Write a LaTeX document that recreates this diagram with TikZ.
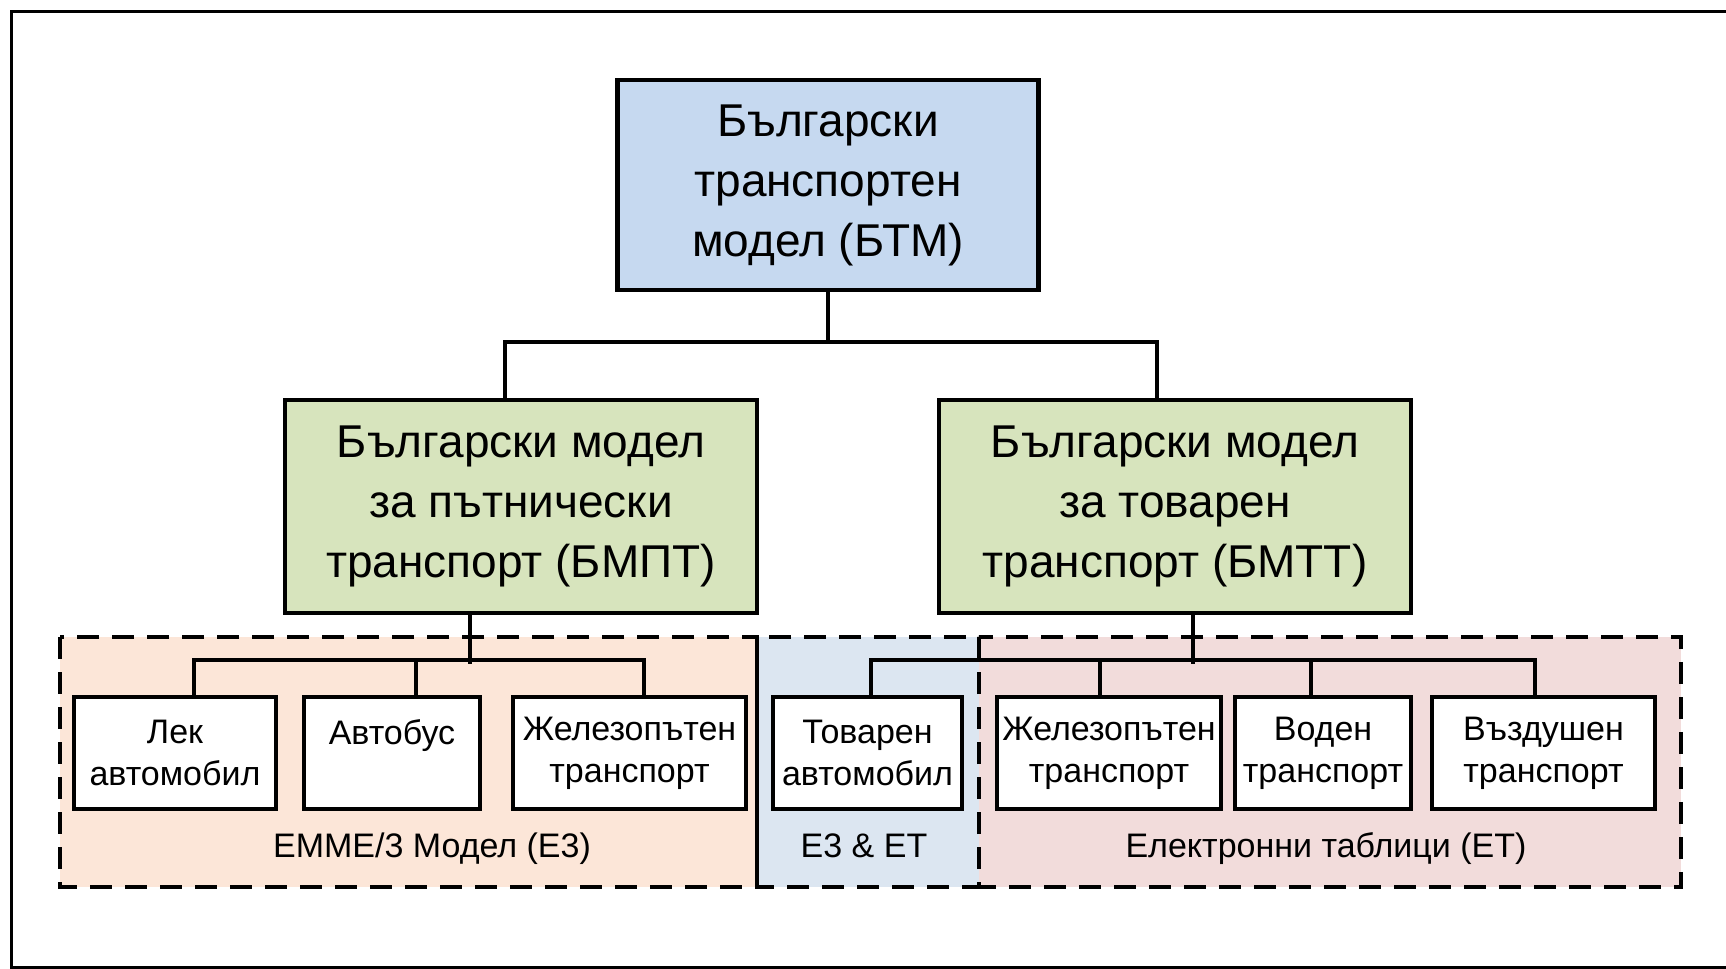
\documentclass[tikz,border=0pt]{standalone}
\usepackage{fontspec}
\setmainfont{Liberation Sans}
\definecolor{topfill}{HTML}{C6D9F0}
\definecolor{greenfill}{HTML}{D7E4BD}
\definecolor{orangefill}{HTML}{FCE6D8}
\definecolor{bluefill}{HTML}{DCE6F1}
\definecolor{pinkfill}{HTML}{F2DCDB}
\tikzset{
  bigbox/.style={draw=black, line width=2.1pt, align=center, inner sep=0pt,
    font=\fontsize{23}{30}\selectfont},
  smallbox/.style={draw=black, line width=2.25pt, fill=white, align=center, inner sep=0pt,
    minimum height=56pt, font=\fontsize{17}{21}\selectfont},
  conn/.style={draw=black, line width=2pt},
  dashbox/.style={draw=black, line width=2pt, dash pattern=on 11pt off 6.5pt},
  grouplabel/.style={inner sep=0pt, font=\fontsize{17}{21}\selectfont}
}
\begin{document}
\begin{tikzpicture}[x=0.5pt,y=-0.5pt]
\useasboundingbox (0,0) rectangle (1726,969);
% outer frame
\draw[line width=1.5pt] (11,11) rectangle (1780,967);
% group regions
\fill[orangefill] (60,637) rectangle (757,887);
\fill[bluefill] (757,637) rectangle (979,887);
\fill[pinkfill] (979,637) rectangle (1681,887);
\draw[dashbox] (60,637) rectangle (757,887);
\draw[dashbox] (979,637) rectangle (1681,887);
\draw[dashbox] (757,637) rectangle (979,887);
% main boxes
\node[bigbox, fill=topfill, minimum width=210.5pt, minimum height=105pt] (btm) at (828,185)
  {Български\\транспортен\\модел (БТМ)};
\node[bigbox, fill=greenfill, minimum width=236pt, minimum height=106.5pt] (bmpt) at (521,506.5)
  {\raisebox{-1.5pt}{\parbox{230pt}{\centering Български модел\\за пътнически\\транспорт (БМПТ)}}};
\node[bigbox, fill=greenfill, minimum width=236pt, minimum height=106.5pt] (bmtt) at (1175,506.5)
  {\raisebox{-1.5pt}{\parbox{230pt}{\centering Български модел\\за товарен\\транспорт (БМТТ)}}};
% small boxes
\node[smallbox, minimum width=101pt] (lek) at (175,753) {Лек\\автомобил};
\node[smallbox, minimum width=88pt] (bus) at (392,753) {Автобус\\\mbox{}};
\node[smallbox, minimum width=116.5pt] (zel1) at (629.5,753) {Железопътен\\транспорт};
\node[smallbox, minimum width=94.5pt] (tov) at (867.5,753) {Товарен\\автомобил};
\node[smallbox, minimum width=112pt] (zel2) at (1109,753) {Железопътен\\транспорт};
\node[smallbox, minimum width=88pt] (vod) at (1323,753) {Воден\\транспорт};
\node[smallbox, minimum width=111.5pt] (vaz) at (1543.5,753) {Въздушен\\транспорт};
% group labels
\node[grouplabel] (e3) at (432,849) {EMME/3 Модел (Е3)};
\node[grouplabel] (e3et) at (864,846) {Е3 \& ЕТ};
\node[grouplabel] (et) at (1326,849) {Електронни таблици (ЕТ)};
% connectors top level
\draw[conn] (btm.south) -- ++(0,-25pt) -| ([xshift=-8pt]bmpt.north);
\draw[conn] (btm.south) -- ++(0,-25pt) -| ([xshift=-9pt]bmtt.north);
% left group
\draw[conn] ([xshift=-25.5pt]bmpt.south) -- ++(0,-24.5pt);
\draw[conn] ([xshift=9.5pt]lek.north) -- ++(0,17.5pt) -| ([xshift=7.25pt]zel1.north);
\draw[conn] ([xshift=12pt]bus.north) -- ++(0,17.5pt);
% right group
\draw[conn] ([xshift=9pt]bmtt.south) -- ++(0,-24.5pt);
\draw[conn] ([xshift=1.75pt]tov.north) -- ++(0,17.5pt) -| ([xshift=-4.25pt]vaz.north);
\draw[conn] ([xshift=-4.5pt]zel2.north) -- ++(0,17.5pt);
\draw[conn] ([xshift=-6pt]vod.north) -- ++(0,17.5pt);
\end{tikzpicture}
\end{document}
